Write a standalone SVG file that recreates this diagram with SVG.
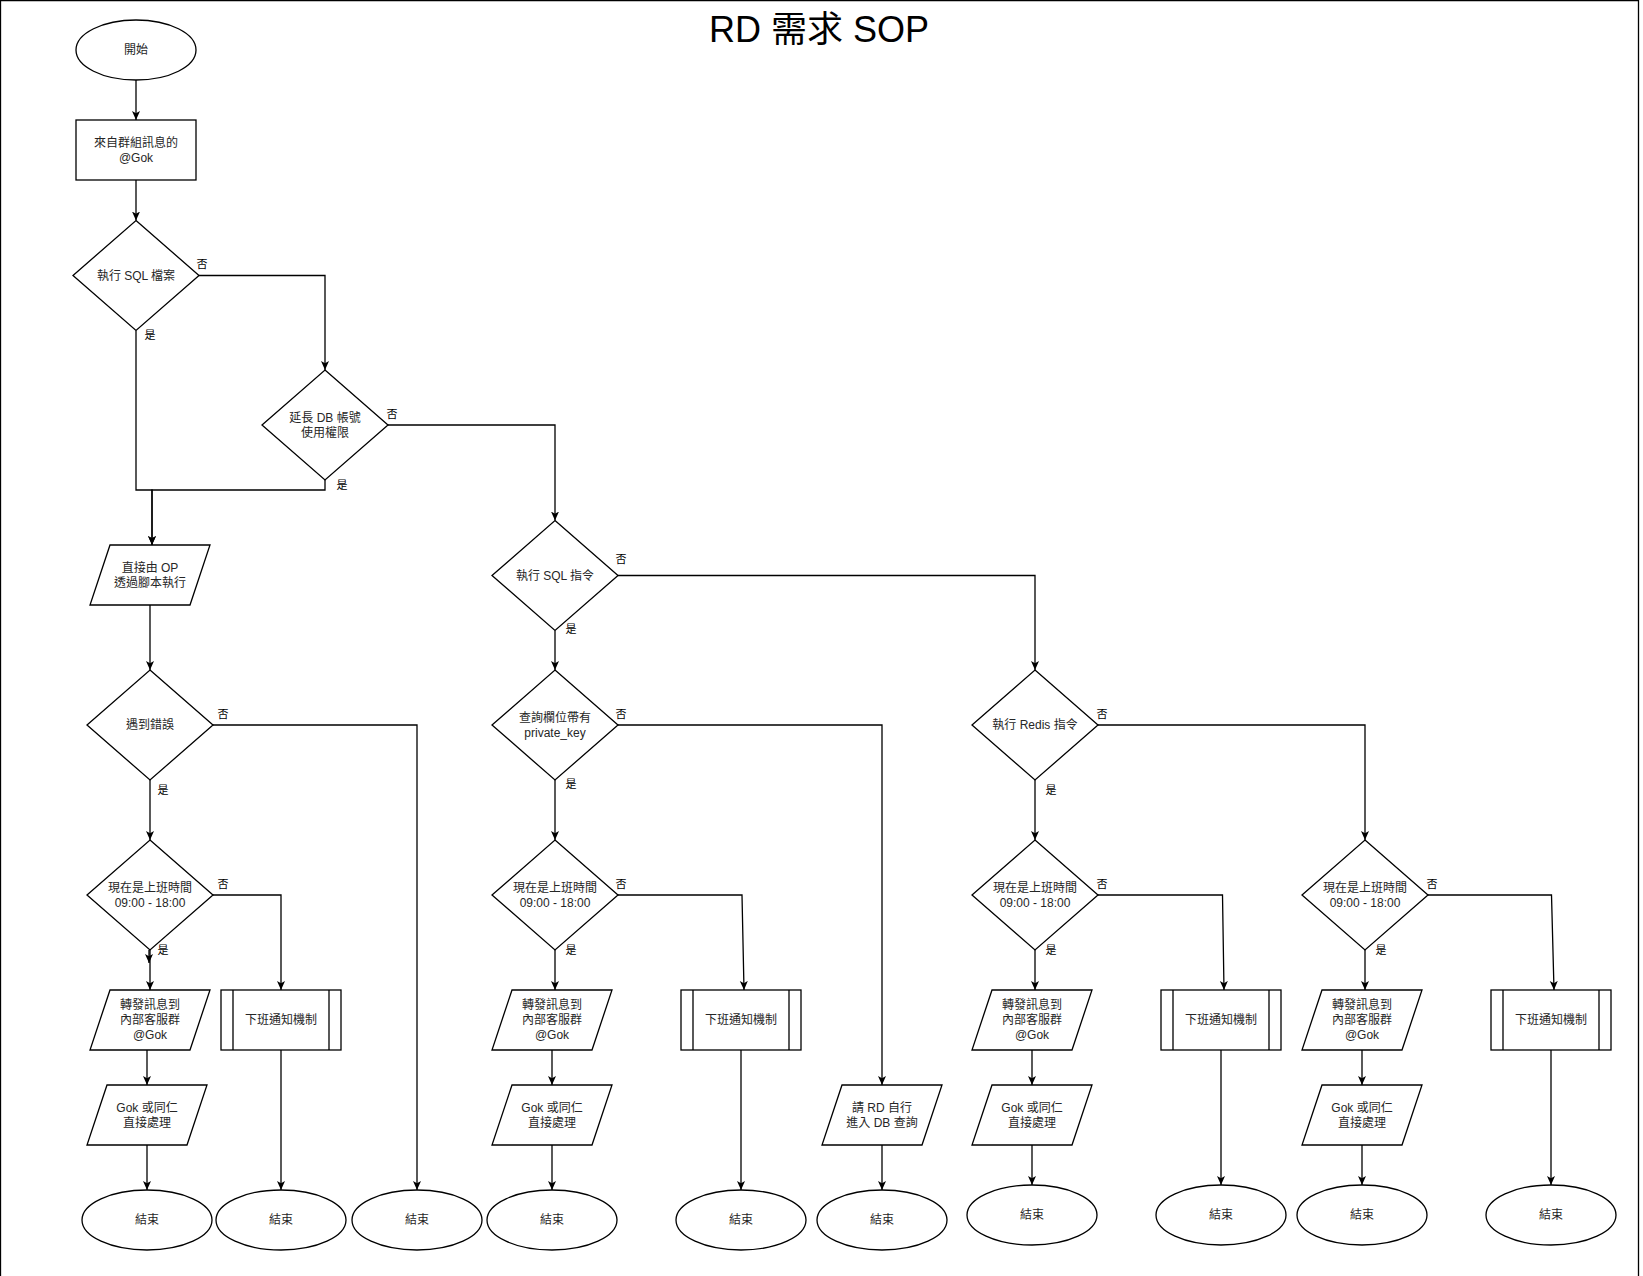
<svg xmlns="http://www.w3.org/2000/svg" width="1643" height="1276" viewBox="0 0 1643 1276">
  <style>
    .shape { fill: #ffffff; stroke: #000000; stroke-width: 1.3; }
    .inner { fill: none; stroke: #000000; stroke-width: 1.3; }
    .edge { fill: none; stroke: #000000; stroke-width: 1.3; marker-end: url(#arrow); }
    .t { font-family: "Liberation Sans", "Noto Sans CJK TC", sans-serif; font-size: 12px; fill: #262626; text-anchor: middle; dominant-baseline: central; }
    .lbl { font-family: "Liberation Sans", "Noto Sans CJK TC", sans-serif; font-size: 11px; fill: #000000; text-anchor: middle; dominant-baseline: central; }
    .title { font-family: "Liberation Sans", "Noto Sans CJK TC", sans-serif; font-size: 36px; fill: #000000; text-anchor: middle; }
  </style>
  <defs>
    <marker id="arrow" markerUnits="userSpaceOnUse" markerWidth="9" markerHeight="9" viewBox="0 0 9 9" refX="9" refY="4.5" orient="auto">
      <path d="M0,0.5 L9,4.5 L0,8.5 L2.2,4.5 Z" fill="#000000"/>
    </marker>
  </defs>

  <rect width="1643" height="1276" fill="#ffffff"/>
  <!-- page frame -->
  <path d="M0.5,1276 V0.5 H1638.5 V1276" fill="none" stroke="#000000" stroke-width="1.3"/>

  <text class="title" x="819" y="42">RD 需求 SOP</text>

  <!-- connectors -->
  <g id="connectors">
    <path class="edge" d="M136,80 V120"/>
    <path class="edge" d="M136,180 V220.5"/>
    <path class="edge" d="M199,275.5 H325 V370"/>
    <path class="edge" d="M136,330.5 V490 H152 V545"/>
    <path class="edge" d="M325,480 V490 H152 V545"/>
    <path class="edge" d="M388,425 H555 V520.5"/>
    <path class="edge" d="M150,605 V670"/>
    <path class="edge" d="M150,780 V840"/>
    <path class="edge" d="M213,725 H417 V1190"/>
    <path class="edge" d="M149,950 V963"/>
    <path class="edge" d="M150,950 V990"/>
    <path class="edge" d="M213,895 H281 V990"/>
    <path class="edge" d="M147,1050 V1085"/>
    <path class="edge" d="M147,1145 V1190"/>
    <path class="edge" d="M281,1050 V1190"/>

    <path class="edge" d="M555,630.5 V670"/>
    <path class="edge" d="M618,575.5 H1035 V670"/>
    <path class="edge" d="M555,780 V840"/>
    <path class="edge" d="M618,725 H882 V1085"/>
    <path class="edge" d="M555,950 V990"/>
    <path class="edge" d="M618,895 H742 L744,990"/>
    <path class="edge" d="M552,1050 V1085"/>
    <path class="edge" d="M552,1145 V1190"/>
    <path class="edge" d="M741,1050 V1190"/>
    <path class="edge" d="M882,1145 V1190"/>

    <path class="edge" d="M1035,780 V840"/>
    <path class="edge" d="M1098,725 H1365 V840"/>
    <path class="edge" d="M1035,950 V990"/>
    <path class="edge" d="M1098,895 H1222.5 L1224,990"/>
    <path class="edge" d="M1032,1050 V1085"/>
    <path class="edge" d="M1032,1145 V1185"/>
    <path class="edge" d="M1221,1050 V1185"/>
    <path class="edge" d="M1365,950 V990"/>
    <path class="edge" d="M1428,895 H1551.5 L1554,990"/>
    <path class="edge" d="M1362,1050 V1085"/>
    <path class="edge" d="M1362,1145 V1185"/>
    <path class="edge" d="M1551,1050 V1185"/>

    <!-- branch labels -->
    <text class="lbl" x="202" y="264">否</text>
    <text class="lbl" x="150" y="335">是</text>
    <text class="lbl" x="392" y="414">否</text>
    <text class="lbl" x="342" y="485">是</text>
    <text class="lbl" x="621" y="559">否</text>
    <text class="lbl" x="571" y="629">是</text>
    <text class="lbl" x="223" y="714">否</text>
    <text class="lbl" x="163" y="790">是</text>
    <text class="lbl" x="621" y="714">否</text>
    <text class="lbl" x="571" y="784">是</text>
    <text class="lbl" x="1102" y="714">否</text>
    <text class="lbl" x="1051" y="790">是</text>
    <text class="lbl" x="223" y="884">否</text>
    <text class="lbl" x="163" y="950">是</text>
    <text class="lbl" x="621" y="884">否</text>
    <text class="lbl" x="571" y="950">是</text>
    <text class="lbl" x="1102" y="884">否</text>
    <text class="lbl" x="1051" y="950">是</text>
    <text class="lbl" x="1432" y="884">否</text>
    <text class="lbl" x="1381" y="950">是</text>
  </g>

  <!-- start / source -->
  <g id="start">
    <ellipse class="shape" cx="136" cy="50" rx="60" ry="30"/>
    <text class="t" x="136" y="50">開始</text>
  </g>
  <g id="source">
    <rect class="shape" x="76" y="120" width="120" height="60"/>
    <text class="t" x="136" y="142.5">來自群組訊息的</text>
    <text class="t" x="136" y="157.5">@Gok</text>
  </g>

  <!-- decisions -->
  <g id="run-sql-file">
    <polygon class="shape" points="136,220.5 199,275.5 136,330.5 73,275.5"/>
    <text class="t" x="136" y="275.5">執行 SQL 檔案</text>
  </g>
  <g id="extend-db-account">
    <polygon class="shape" points="325,370 388,425 325,480 262,425"/>
    <text class="t" x="325" y="417.5">延長 DB 帳號</text>
    <text class="t" x="325" y="432.5">使用權限</text>
  </g>
  <g id="op-script">
    <polygon class="shape" points="110,545 210,545 190,605 90,605"/>
    <text class="t" x="150" y="567.5">直接由 OP</text>
    <text class="t" x="150" y="582.5">透過腳本執行</text>
  </g>
  <g id="run-sql-command">
    <polygon class="shape" points="555,520.5 618,575.5 555,630.5 492,575.5"/>
    <text class="t" x="555" y="575.5">執行 SQL 指令</text>
  </g>
  <g id="error">
    <polygon class="shape" points="150,670 213,725 150,780 87,725"/>
    <text class="t" x="150" y="725">遇到錯誤</text>
  </g>
  <g id="private-key">
    <polygon class="shape" points="555,670 618,725 555,780 492,725"/>
    <text class="t" x="555" y="717.5">查詢欄位帶有</text>
    <text class="t" x="555" y="732.5">private_key</text>
  </g>
  <g id="run-redis">
    <polygon class="shape" points="1035,670 1098,725 1035,780 972,725"/>
    <text class="t" x="1035" y="725">執行 Redis 指令</text>
  </g>

  <!-- office hours checks -->
  <g id="hours-a">
    <polygon class="shape" points="150,840 213,895 150,950 87,895"/>
    <text class="t" x="150" y="887.5">現在是上班時間</text>
    <text class="t" x="150" y="902.5">09:00 - 18:00</text>
  </g>
  <g id="hours-b">
    <polygon class="shape" points="555,840 618,895 555,950 492,895"/>
    <text class="t" x="555" y="887.5">現在是上班時間</text>
    <text class="t" x="555" y="902.5">09:00 - 18:00</text>
  </g>
  <g id="hours-c">
    <polygon class="shape" points="1035,840 1098,895 1035,950 972,895"/>
    <text class="t" x="1035" y="887.5">現在是上班時間</text>
    <text class="t" x="1035" y="902.5">09:00 - 18:00</text>
  </g>
  <g id="hours-d">
    <polygon class="shape" points="1365,840 1428,895 1365,950 1302,895"/>
    <text class="t" x="1365" y="887.5">現在是上班時間</text>
    <text class="t" x="1365" y="902.5">09:00 - 18:00</text>
  </g>

  <!-- forward to support group -->
  <g id="forward-a">
    <polygon class="shape" points="110,990 210,990 190,1050 90,1050"/>
    <text class="t" x="150" y="1005">轉發訊息到</text>
    <text class="t" x="150" y="1020">內部客服群</text>
    <text class="t" x="150" y="1035">@Gok</text>
  </g>
  <g id="forward-b">
    <polygon class="shape" points="512,990 612,990 592,1050 492,1050"/>
    <text class="t" x="552" y="1005">轉發訊息到</text>
    <text class="t" x="552" y="1020">內部客服群</text>
    <text class="t" x="552" y="1035">@Gok</text>
  </g>
  <g id="forward-c">
    <polygon class="shape" points="992,990 1092,990 1072,1050 972,1050"/>
    <text class="t" x="1032" y="1005">轉發訊息到</text>
    <text class="t" x="1032" y="1020">內部客服群</text>
    <text class="t" x="1032" y="1035">@Gok</text>
  </g>
  <g id="forward-d">
    <polygon class="shape" points="1322,990 1422,990 1402,1050 1302,1050"/>
    <text class="t" x="1362" y="1005">轉發訊息到</text>
    <text class="t" x="1362" y="1020">內部客服群</text>
    <text class="t" x="1362" y="1035">@Gok</text>
  </g>

  <!-- after-hours notification -->
  <g id="offhours-a">
    <rect class="shape" x="221" y="990" width="120" height="60"/>
    <path class="inner" d="M233,990 V1050 M329,990 V1050"/>
    <text class="t" x="281" y="1020">下班通知機制</text>
  </g>
  <g id="offhours-b">
    <rect class="shape" x="681" y="990" width="120" height="60"/>
    <path class="inner" d="M693,990 V1050 M789,990 V1050"/>
    <text class="t" x="741" y="1020">下班通知機制</text>
  </g>
  <g id="offhours-c">
    <rect class="shape" x="1161" y="990" width="120" height="60"/>
    <path class="inner" d="M1173,990 V1050 M1269,990 V1050"/>
    <text class="t" x="1221" y="1020">下班通知機制</text>
  </g>
  <g id="offhours-d">
    <rect class="shape" x="1491" y="990" width="120" height="60"/>
    <path class="inner" d="M1503,990 V1050 M1599,990 V1050"/>
    <text class="t" x="1551" y="1020">下班通知機制</text>
  </g>

  <!-- handled directly -->
  <g id="handle-a">
    <polygon class="shape" points="107,1085 207,1085 187,1145 87,1145"/>
    <text class="t" x="147" y="1107.5">Gok 或同仁</text>
    <text class="t" x="147" y="1122.5">直接處理</text>
  </g>
  <g id="handle-b">
    <polygon class="shape" points="512,1085 612,1085 592,1145 492,1145"/>
    <text class="t" x="552" y="1107.5">Gok 或同仁</text>
    <text class="t" x="552" y="1122.5">直接處理</text>
  </g>
  <g id="handle-c">
    <polygon class="shape" points="992,1085 1092,1085 1072,1145 972,1145"/>
    <text class="t" x="1032" y="1107.5">Gok 或同仁</text>
    <text class="t" x="1032" y="1122.5">直接處理</text>
  </g>
  <g id="handle-d">
    <polygon class="shape" points="1322,1085 1422,1085 1402,1145 1302,1145"/>
    <text class="t" x="1362" y="1107.5">Gok 或同仁</text>
    <text class="t" x="1362" y="1122.5">直接處理</text>
  </g>
  <g id="rd-query">
    <polygon class="shape" points="842,1085 942,1085 922,1145 822,1145"/>
    <text class="t" x="882" y="1107.5">請 RD 自行</text>
    <text class="t" x="882" y="1122.5">進入 DB 查詢</text>
  </g>

  <!-- end points -->
  <g id="end-1"><ellipse class="shape" cx="147" cy="1220" rx="65" ry="30"/><text class="t" x="147" y="1220">結束</text></g>
  <g id="end-2"><ellipse class="shape" cx="281" cy="1220" rx="65" ry="30"/><text class="t" x="281" y="1220">結束</text></g>
  <g id="end-3"><ellipse class="shape" cx="417" cy="1220" rx="65" ry="30"/><text class="t" x="417" y="1220">結束</text></g>
  <g id="end-4"><ellipse class="shape" cx="552" cy="1220" rx="65" ry="30"/><text class="t" x="552" y="1220">結束</text></g>
  <g id="end-5"><ellipse class="shape" cx="741" cy="1220" rx="65" ry="30"/><text class="t" x="741" y="1220">結束</text></g>
  <g id="end-6"><ellipse class="shape" cx="882" cy="1220" rx="65" ry="30"/><text class="t" x="882" y="1220">結束</text></g>
  <g id="end-7"><ellipse class="shape" cx="1032" cy="1215" rx="65" ry="30"/><text class="t" x="1032" y="1215">結束</text></g>
  <g id="end-8"><ellipse class="shape" cx="1221" cy="1215" rx="65" ry="30"/><text class="t" x="1221" y="1215">結束</text></g>
  <g id="end-9"><ellipse class="shape" cx="1362" cy="1215" rx="65" ry="30"/><text class="t" x="1362" y="1215">結束</text></g>
  <g id="end-10"><ellipse class="shape" cx="1551" cy="1215" rx="65" ry="30"/><text class="t" x="1551" y="1215">結束</text></g>
</svg>
